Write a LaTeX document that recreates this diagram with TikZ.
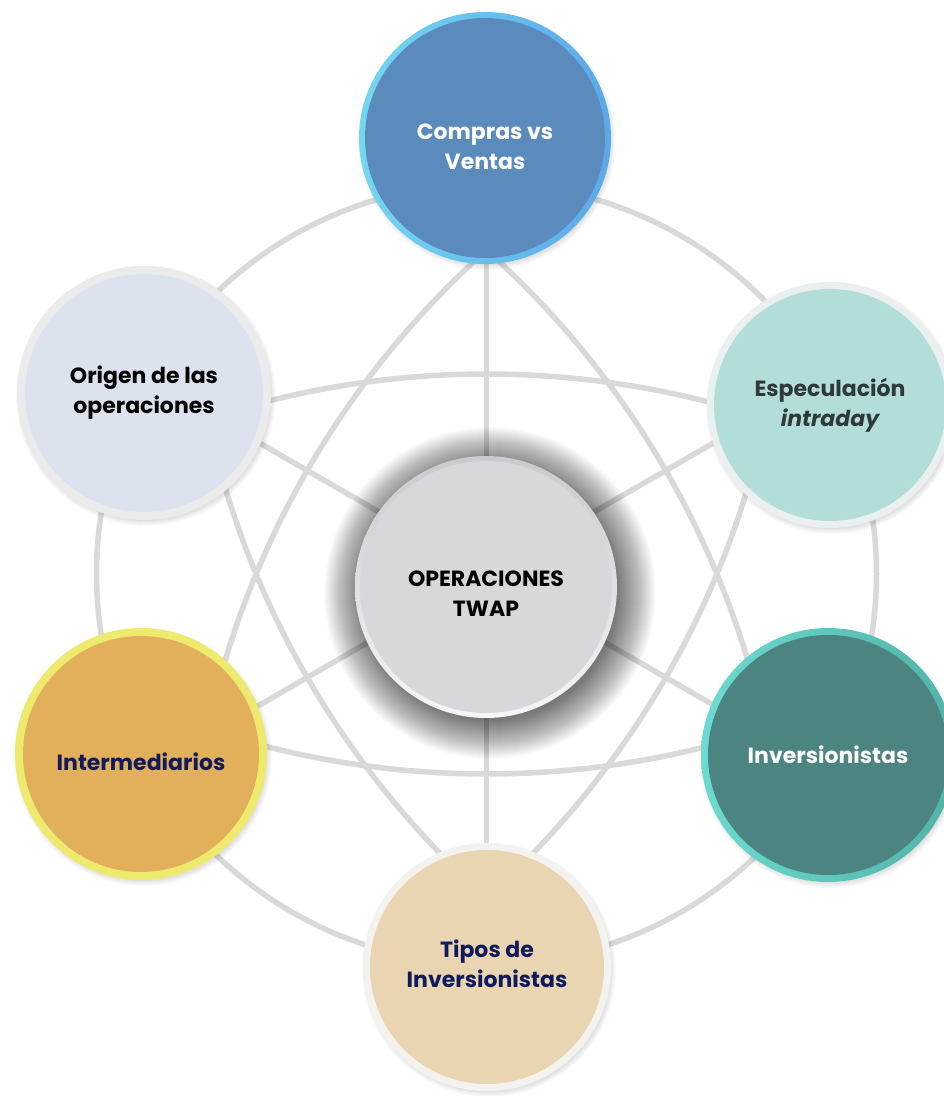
\documentclass[tikz,border=0pt]{standalone}
\usepackage{fontspec}
\setmainfont{Poppins}
\usetikzlibrary{calc}

% palette
\definecolor{webgray}{HTML}{D9D9D9}
\definecolor{topRingA}{HTML}{74D7F0}
\definecolor{topRingB}{HTML}{5BA8EA}
\definecolor{topFill}{HTML}{5A8BBC}
\definecolor{origRing}{HTML}{EBEBEB}
\definecolor{origFill}{HTML}{DCE3EE}
\definecolor{specRing}{HTML}{EAF0F0}
\definecolor{specFill}{HTML}{B3DDD9}
\definecolor{specText}{HTML}{2E3A3A}
\definecolor{coreRimA}{HTML}{F6F6F8}
\definecolor{coreRimB}{HTML}{CACACE}
\definecolor{coreFill}{HTML}{D8D8DC}
\definecolor{interRing}{HTML}{EEEA6E}
\definecolor{interFill}{HTML}{E2B05B}
\definecolor{inverRingA}{HTML}{6CDBD0}
\definecolor{inverRingB}{HTML}{52B2A8}
\definecolor{inverFill}{HTML}{4B8480}
\definecolor{tiposRing}{HTML}{F3F2EE}
\definecolor{tiposFill}{HTML}{E9D5B1}
\definecolor{navy}{HTML}{101A5C}

\begin{document}
\begin{tikzpicture}[x=1pt,y=1pt,
  web/.style={draw=webgray, line width=5.5pt},
  disc/.style n args={3}{circle, inner sep=0pt, outer sep=0pt, minimum size=#1,
    path picture={\fill[#2] (path picture bounding box.center) circle ({0.5*#1-#3});}},
  txt/.style={align=center, inner sep=0pt, font=\bfseries\fontsize{22}{30}\selectfont}]

\fill[white] (0,0) rectangle (944,1096);
\useasboundingbox (0,0) rectangle (944,1096);

% centres of the bubbles
\coordinate (pTop)   at (485,958);
\coordinate (pOrig)  at (144,703);
\coordinate (pSpec)  at (830,691);
\coordinate (pCore)  at (486,509);
\coordinate (pInter) at (141,342);
\coordinate (pInver) at (828,341);
\coordinate (pTipos) at (487,129);

% background web: ring, spokes and two curved triangles
\coordinate (O) at (486.5,522);
\foreach \a [count=\i] in {30,90,150,210,270,330}
  \coordinate (v\i) at ($(O)+(\a:390)$);
\draw[web] (O) circle (390);
\foreach \i in {1,...,6} \draw[web] (O) -- (v\i);

\coordinate (cUp)  at (486.5,-173);
\coordinate (cLow) at (486.5,1217);
\coordinate (cA)   at (1082.3,178);
\coordinate (cB)   at (-109.3,178);
\coordinate (cC)   at (1082.3,866);
\coordinate (cD)   at (-109.3,866);
\draw[web] (cUp)  ++(66:895)  arc[start angle=66,  end angle=114, radius=895];
\draw[web] (cLow) ++(246:895) arc[start angle=246, end angle=294, radius=895];
\draw[web] (cA)   ++(126:895) arc[start angle=126, end angle=175, radius=895];
\draw[web] (cB)   ++(5:895)   arc[start angle=5,   end angle=54,  radius=895];
\draw[web] (cC)   ++(186:895) arc[start angle=186, end angle=234, radius=895];
\draw[web] (cD)   ++(306:895) arc[start angle=306, end angle=354, radius=895];

% soft shadows
\foreach \k in {1,...,40}
  \fill[black, opacity=0.014] ($(pCore)+(4,-6)$) circle ({126+\k});
\foreach \p/\r in {pTop/126,pOrig/127,pSpec/123,pInter/126,pInver/127,pTipos/124}
  \foreach \k in {1,...,6}
    \fill[black, opacity=0.02] ($(\p)+(2,-3)$) circle ({\r-3+\k});

% bubbles
\node[disc={252}{topFill}{6}, left color=topRingA, right color=topRingB] (top) at (pTop) {};
\node[disc={254}{origFill}{8}, fill=origRing] (orig) at (pOrig) {};
\node[disc={246}{specFill}{7}, fill=specRing] (spec) at (pSpec) {};
\node[disc={262}{coreFill}{5}, top color=coreRimB, bottom color=coreRimA] (core) at (pCore) {};
\node[disc={252}{interFill}{8}, fill=interRing] (inter) at (pInter) {};
\node[disc={254}{inverFill}{7}, left color=inverRingA, right color=inverRingB] (inver) at (pInver) {};
\node[disc={248}{tiposFill}{7}, fill=tiposRing] (tipos) at (pTipos) {};

% labels
\node[txt, text=white]    (tTop)   at ($(pTop)+(0,-9)$)   {Compras vs\\Ventas};
\node[txt, text=black]    (tOrig)  at (pOrig)             {Origen de las\\operaciones};
\node[txt, text=specText] (tSpec)  at (pSpec)             {Especulación\\\itshape intraday};
\node[txt, text=black]    (tCore)  at ($(pCore)+(0,-7)$)  {OPERACIONES\\TWAP};
\node[txt, text=navy]     (tInter) at ($(pInter)+(0,-8)$) {Intermediarios};
\node[txt, text=white]    (tInver) at (pInver)            {Inversionistas};
\node[txt, text=navy]     (tTipos) at ($(pTipos)+(0,3)$)  {Tipos de\\Inversionistas};
\end{tikzpicture}
\end{document}
